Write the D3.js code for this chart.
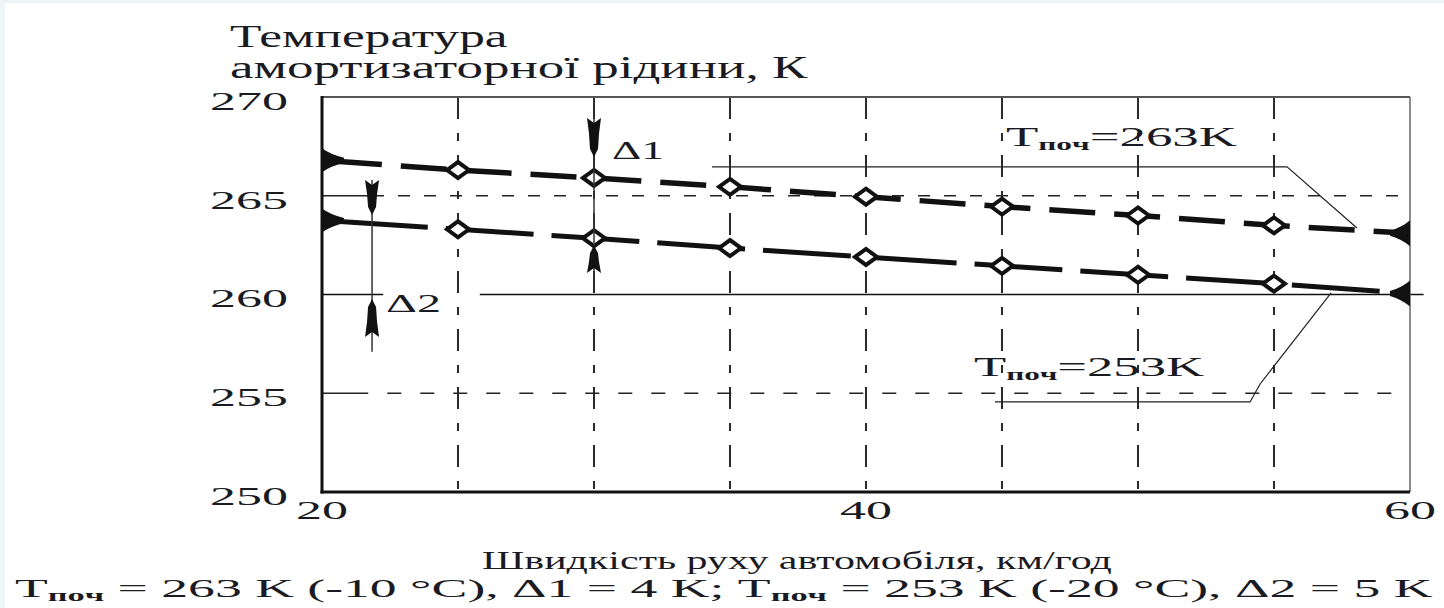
<!DOCTYPE html>
<html><head><meta charset="utf-8">
<script src="https://cdn.jsdelivr.net/npm/d3@7"></script>
<style>
html,body{margin:0;padding:0;background:#fff;}
svg{display:block;}
text{font-family:"Liberation Serif","Times New Roman",serif;fill:#1a1a22;}
</style></head>
<body>
<svg id="c" width="1444" height="608"></svg>
<script>
// ---- data ----
const speeds   = [20, 25, 30, 35, 40, 45, 50, 55, 60];
const temp263  = [266.8, 266.3, 265.9, 265.45, 264.95, 264.45, 264.0, 263.5, 263.1];
const temp253  = [263.75, 263.3, 262.85, 262.35, 261.9, 261.45, 261.0, 260.55, 260.05];
const yTickValues = [250, 255, 260, 265, 270];
const xTickValues = [20, 40, 60];
const gridSpeeds  = [25, 30, 35, 40, 45, 50, 55];
const titleLines  = ["Температура", "амортизаторної рідини, К"];
const xTitle      = "Швидкість руху автомобіля, км/год";
const label263 = ["T", "пoч", "=263K"];
const label253 = ["T", "пoч", "=253K"];
const delta1 = {speed: 30, top: 268.94, downTip: 266.96, upTip: 262.5, upTail: 261.09, lineEnd: 260.95, text: "Δ1"};
const delta2 = {speed: 21.84, top: 265.8, downTip: 264.03, upTip: 259.77, upTail: 257.85, lineEnd: 257.1, text: "Δ2"};
const leader263 = [[34.34, 266.46], [55.48, 266.46], [58.05, 263.37]];
const leader253 = [[44.74, 254.56], [54.12, 254.56], [54.49, 255.47], [57.1, 260.08]];

const svg = d3.select("#c");
const x = d3.scaleLinear().domain([20, 60]).range([322, 1410]);
const y = d3.scaleLinear().domain([250, 270]).range([492, 97]);

// faint page border tint
svg.append("rect").attr("x",0).attr("y",0).attr("width",1444).attr("height",3).attr("fill","#eaf4f5");
svg.append("rect").attr("x",0).attr("y",0).attr("width",5).attr("height",608).attr("fill","#eef6f7");

// stretch helper: fit a text element into [x0,x1]
function fit(t, x0, x1){
  const b = t.node().getBBox();
  const sx = (x1 - x0) / b.width;
  t.attr("transform", `translate(${x0},0) scale(${sx},1) translate(${-b.x},0)`);
}

// ---- grid ----
const g = svg.append("g");
g.selectAll("line.vg").data(gridSpeeds).join("line")
  .attr("x1", d => x(d)).attr("x2", d => x(d))
  .attr("y1", y(270)).attr("y2", y(250))
  .attr("stroke", "#2a2a2a").attr("stroke-width", 2)
  .attr("stroke-dasharray", "22,14,8,14");
// 265 line: short solid then dashed
g.append("line").attr("x1", x(20)).attr("x2", x(delta2.speed)).attr("y1", y(265)).attr("y2", y(265))
  .attr("stroke","#222").attr("stroke-width",1.5);
g.append("line").attr("x1", x(delta2.speed)).attr("x2", x(60)).attr("y1", y(265)).attr("y2", y(265))
  .attr("stroke","#222").attr("stroke-width",1.5).attr("stroke-dasharray","12,14");
// 260 line: solid with gap for Δ2 label
g.append("line").attr("x1", x(20)).attr("x2", x(22.25)).attr("y1", y(260)).attr("y2", y(260))
  .attr("stroke","#111").attr("stroke-width",1.6);
g.append("line").attr("x1", x(25.8)).attr("x2", x(60.5)).attr("y1", y(260)).attr("y2", y(260))
  .attr("stroke","#111").attr("stroke-width",1.6);
// 255 line: solid start then dashed
g.append("line").attr("x1", x(20)).attr("x2", x(21.7)).attr("y1", y(255)).attr("y2", y(255))
  .attr("stroke","#222").attr("stroke-width",1.5);
g.append("line").attr("x1", x(22.4)).attr("x2", x(60)).attr("y1", y(255)).attr("y2", y(255))
  .attr("stroke","#222").attr("stroke-width",1.5).attr("stroke-dasharray","14,19");

// frame
g.append("line").attr("x1", x(20)).attr("x2", x(60)).attr("y1", y(270)).attr("y2", y(270))
  .attr("stroke","#555").attr("stroke-width",2);
g.append("line").attr("x1", x(60)).attr("x2", x(60)).attr("y1", y(270)).attr("y2", y(250))
  .attr("stroke","#666").attr("stroke-width",1.5);
g.append("line").attr("x1", x(20)).attr("x2", x(20)).attr("y1", y(270)-1).attr("y2", y(250)+1.5)
  .attr("stroke","#111").attr("stroke-width",3);
g.append("line").attr("x1", x(20)-1.5).attr("x2", x(60)).attr("y1", y(250)).attr("y2", y(250))
  .attr("stroke","#111").attr("stroke-width",3);

// ---- tick labels ----
yTickValues.forEach(v => {
  const t = svg.append("text").attr("x", 0).attr("y", y(v) + 13)
    .attr("font-size", 26).text(v);
  fit(t, 210, 288);
});
xTickValues.forEach(v => {
  const t = svg.append("text").attr("x", 0).attr("y", 519)
    .attr("font-size", 26).text(v);
  fit(t, x(v) - 26, x(v) + 26);
});

// ---- titles ----
const tt1 = svg.append("text").attr("y", 47).attr("font-size", 31).text(titleLines[0]);
fit(tt1, 230, 508);
const tt2 = svg.append("text").attr("y", 78).attr("font-size", 31).text(titleLines[1]);
fit(tt2, 230, 808);
const xt = svg.append("text").attr("y", 569).attr("font-size", 26).text(xTitle);
fit(xt, 482, 1112);

// caption
const cap = svg.append("text").attr("y", 597).attr("font-size", 25);
const capParts = [["T",0],["пoч",1],[" = 263 K (-10 °C), Δ1 = 4 K; ",0],["T",0],["пoч",1],[" = 253 K (-20 °C), Δ2 = 5 K",0]];
capParts.forEach(([s, sub], i) => {
  const ts = cap.append("tspan").text(s);
  if (sub) ts.attr("font-size", 16).attr("font-weight", "bold").attr("dy", 4);
  else if (i > 0 && capParts[i-1][1]) ts.attr("dy", -4);
});
fit(cap, 15, 1432);

// ---- series lines ----
const line = d3.line().x(d => x(d[0])).y(d => y(d[1]));
const s263 = speeds.map((s, i) => [s, temp263[i]]);
const s253 = speeds.map((s, i) => [s, temp253[i]]);
svg.append("path").datum(s263).attr("d", line).attr("fill","none")
  .attr("stroke","#111").attr("stroke-width",5.5).attr("stroke-dasharray","46,19").attr("stroke-dashoffset", -14);
svg.append("path").datum(s253).attr("d", line).attr("fill","none")
  .attr("stroke","#111").attr("stroke-width",5).attr("stroke-dasharray","88,18").attr("stroke-dashoffset", -18);

// end markers (bell triangles)
function hornRight(px, py){ return `M${px},${py-12} Q${px+8},${py-6} ${px+22},${py-2.5} L${px+22},${py+2.5} Q${px+8},${py+6} ${px},${py+12} Z`; }
function hornLeft(px, py){ return `M${px},${py-13} Q${px-8},${py-6} ${px-20},${py-2.5} L${px-20},${py+2.5} Q${px-8},${py+6} ${px},${py+13} Z`; }
[s263, s253].forEach(s => {
  const a = s[0], b = s[s.length-1];
  svg.append("path").attr("d", hornRight(x(a[0]), y(a[1]))).attr("fill","#111");
  svg.append("path").attr("d", hornLeft(x(b[0]), y(b[1]))).attr("fill","#111");
});

// diamond markers
[s263, s253].forEach(s => {
  svg.selectAll(null).data(s.slice(1, -1)).join("path")
    .attr("d", d => { const px = x(d[0]), py = y(d[1]); return `M${px-11},${py} L${px},${py-8} L${px+11},${py} L${px},${py+8} Z`; })
    .attr("fill","#fff").attr("stroke","#111").attr("stroke-width",4);
});

// ---- Δ annotations ----
function dart(cx, yTop, yTip){
  const dir = yTip > yTop ? 1 : -1, L = Math.abs(yTip - yTop);
  const p = t => yTop + dir * t;
  return `M${cx-7},${p(0)} L${cx},${p(5)} L${cx+7},${p(0)} L${cx+5},${p(L*0.4)} L${cx+4},${p(L-8)} L${cx},${p(L)} L${cx-4},${p(L-8)} L${cx-5},${p(L*0.4)} Z`;
}
[delta1, delta2].forEach(d => {
  svg.append("line").attr("x1", x(d.speed)).attr("x2", x(d.speed))
    .attr("y1", y(d.top)).attr("y2", y(d.lineEnd)).attr("stroke", "#333").attr("stroke-width", 1.5);
  svg.append("path").attr("d", dart(x(d.speed), y(d.top), y(d.downTip))).attr("fill", "#111");
  svg.append("path").attr("d", dart(x(d.speed), y(d.upTail), y(d.upTip))).attr("fill", "#111");
});
const d1t = svg.append("text").attr("y", 159).attr("font-size", 25).text(delta1.text);
fit(d1t, 612, 664);
const d2t = svg.append("text").attr("y", 312).attr("font-size", 25).text(delta2.text);
fit(d2t, 386, 441);

// ---- leaders & series labels ----
const lline = d3.line().x(d => x(d[0])).y(d => y(d[1]));
svg.append("path").datum(leader263).attr("d", lline).attr("fill","none").attr("stroke","#222").attr("stroke-width",1.2);
svg.append("path").datum(leader253).attr("d", lline).attr("fill","none").attr("stroke","#222").attr("stroke-width",1.2);

function seriesLabel(parts, yb, x0, x1){
  const t = svg.append("text").attr("y", yb).attr("font-size", 27);
  t.append("tspan").text(parts[0]);
  t.append("tspan").text(parts[1]).attr("font-size", 16).attr("font-weight","bold").attr("dy", 4);
  t.append("tspan").text(parts[2]).attr("dy", -4);
  fit(t, x0, x1);
}
seriesLabel(label263, 146, 1006, 1238);
seriesLabel(label253, 376, 974, 1205);
</script>
</body></html>
